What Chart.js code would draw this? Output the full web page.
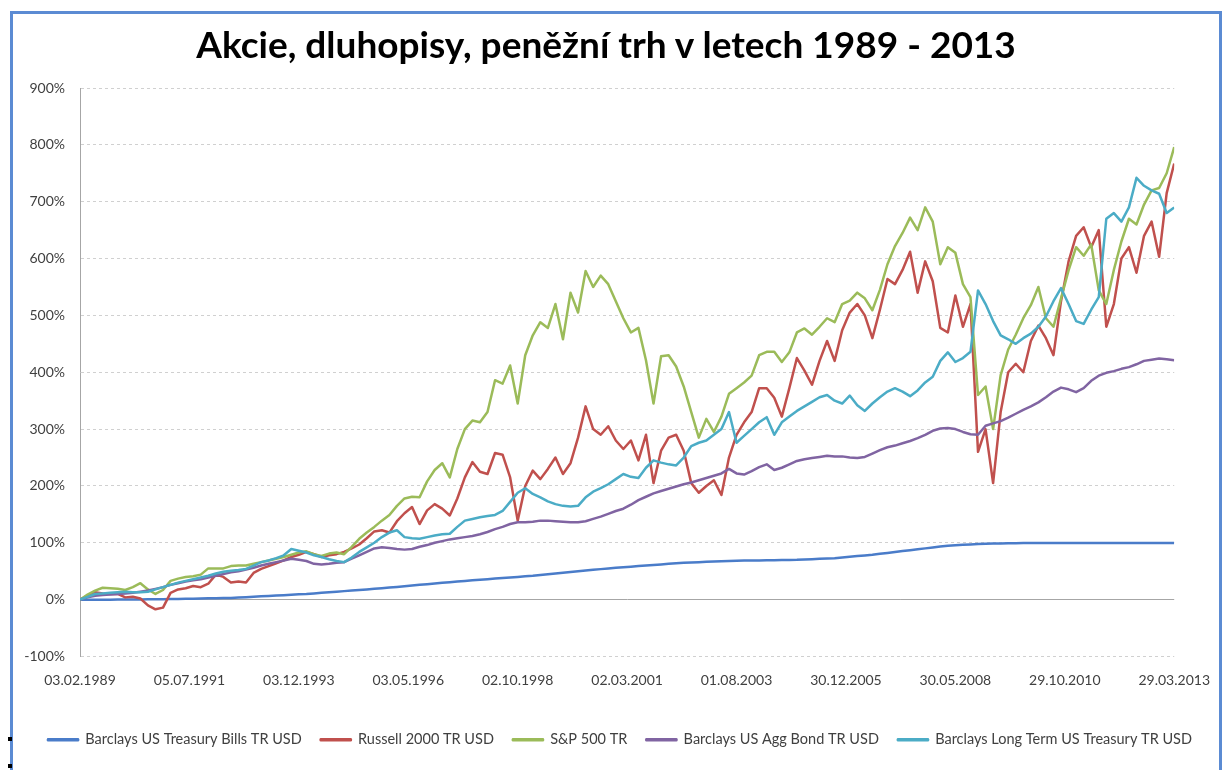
<!DOCTYPE html>
<html>
<head>
<meta charset="utf-8">
<script src="https://cdn.jsdelivr.net/npm/chart.js@4.4.0/dist/chart.umd.min.js"></script>
<style>
  html, body { margin: 0; padding: 0; background: #fff; }
  #wrap { position: relative; width: 1226px; height: 770px; overflow: hidden; background: #fff; }
  #frame { position: absolute; left: 10px; top: 11px; width: 1212px; height: 820px; border: 3px solid #5B8BD3; box-sizing: border-box; }
  #title { position: absolute; left: 0; top: 21px; width: 1212px; text-align: center; font: bold 37px Lato, sans-serif; color: #000; }
  .handle { position: absolute; left: 8px; width: 4px; height: 4px; background: #000; }
  canvas { position: absolute; left: 0; top: 0; }
</style>
</head>
<body>
<div id="wrap">
  <div id="frame"></div>
  <div class="handle" style="top:737px"></div>
  <div class="handle" style="top:764px"></div>
  <canvas id="chart" width="1226" height="770"></canvas>
  <div id="title">Akcie, dluhopisy, peněžní trh v letech 1989 - 2013</div>
</div>
<script>
// osa x: mesice od 03.02.1989, krok 2 mesice
const months = Array.from({ length: 146 }, (_, i) => i * 2);
const tickMonths = [0, 29, 58, 87, 116, 145, 174, 203, 232, 261, 290];
const tickLabels = ['03.02.1989', '05.07.1991', '03.12.1993', '03.05.1996', '02.10.1998',
  '02.03.2001', '01.08.2003', '30.12.2005', '30.05.2008', '29.10.2010', '29.03.2013'];

const seriesNames = ['Barclays US Treasury Bills TR USD', 'Russell 2000 TR USD', 'S&P 500 TR',
  'Barclays US Agg Bond TR USD', 'Barclays Long Term US Treasury TR USD'];
const seriesColors = ['#4A7CC9', '#C0504D', '#9BBB59', '#8064A2', '#4BACC6'];

const tbills = [
  0, 0, 0, 0, 0, 0.1, 0.2, 0.3, 0.4, 0.5,
  0.5, 0.8, 1, 1.3, 1.5, 1.8, 2, 2.3, 2.5, 2.8,
  3, 3.7, 4.4, 5.1, 5.8, 6.5, 7.2, 7.9, 8.6, 9.3,
  10, 11, 12, 13, 14, 15, 16, 17, 18, 19,
  20, 21.2, 22.4, 23.6, 24.8, 26, 27.2, 28.4, 29.6, 30.8,
  32, 33, 34, 35, 36, 37, 38, 39, 40, 41,
  42, 43.3, 44.6, 45.9, 47.2, 48.5, 49.8, 51.1, 52.4, 53.7,
  55, 56, 57, 58, 59, 60, 61, 62, 63, 64,
  65, 65.5, 66, 66.5, 67, 67.5, 68, 68.5, 68.8, 69,
  69, 69.2, 69.4, 69.6, 69.8, 70, 70.6, 71.2, 71.8, 72.4,
  73, 74.2, 75.4, 76.6, 77.8, 79, 80.6, 82.2, 83.8, 85.4,
  87, 88.6, 90.2, 91.8, 93.4, 95, 95.7, 96.4, 97.1, 97.8,
  98.5, 98.7, 98.9, 99.1, 99.3, 99.5, 99.5, 99.5, 99.5, 99.5,
  99.5, 99.5, 99.5, 99.5, 99.5, 99.5, 99.5, 99.5, 99.5, 99.5,
  99.5, 99.5, 99.5, 99.5, 99.5, 99.5
];

const russell = [
  0, 7, 13, 11, 10, 10, 4, 5, 2, -10,
  -17, -14, 12, 18, 20, 24, 22, 28, 44, 40,
  30, 32, 30, 47, 54, 59, 64, 69, 75, 79,
  84, 80, 75, 78, 80, 84, 90, 97, 108, 120,
  122, 118, 138, 152, 163, 133, 157, 168, 160, 148,
  178, 215, 242, 225, 221, 258, 255, 215, 139, 200,
  227, 212, 230, 250, 221, 240, 285, 340, 300, 290,
  305, 280, 265, 280, 245, 290, 205, 262, 285, 290,
  262, 205, 188, 200, 210, 184, 250, 290, 312, 330,
  372, 372, 355, 322, 372, 425, 403, 378, 420, 455,
  420, 474, 505, 520, 500, 460, 510, 564, 555, 580,
  612, 540, 595, 560, 478, 470, 535, 480, 520, 260,
  300, 205, 330, 400, 415, 400, 455, 482, 460, 430,
  525, 595, 640, 655, 620, 650, 480, 520, 600, 620,
  575, 640, 665, 603, 715, 767
];

const sp500 = [
  0, 9, 16, 21, 20, 19, 17, 22, 29, 18,
  10, 17, 33, 37, 40, 41, 44, 55, 55, 55,
  59, 60, 60, 63, 66, 69, 72, 75, 79, 83,
  85, 80, 77, 81, 83, 80, 93, 107, 118, 128,
  139, 149, 165, 178, 181, 180, 208, 228, 240, 215,
  265, 300, 315, 312, 330, 386, 380, 412, 345, 430,
  465, 488, 478, 520, 458, 540, 505, 578, 550, 570,
  555, 525, 495, 470, 478, 421, 345, 428, 430, 410,
  375, 330, 285, 318, 295, 322, 362, 372, 382, 394,
  430, 436, 436, 418, 435, 470, 477, 466, 480, 495,
  488, 520, 526, 540, 530, 509, 545, 590, 622, 645,
  672, 650, 690, 665, 590, 620, 610, 555, 532, 360,
  375, 300, 395, 440, 466, 495, 518, 550, 495, 480,
  530, 579, 620, 605, 625, 544, 520, 580, 630, 670,
  660, 695, 720, 724, 750, 796
];

const aggBond = [
  0, 4, 7, 8, 9, 10, 11, 12, 14, 16,
  19, 22, 26, 29, 32, 34, 36, 39, 42, 45,
  48, 50, 53, 56, 60, 63, 66, 69, 72, 70,
  68, 63, 62, 63, 65, 66, 72, 78, 84, 90,
  92, 91, 89, 88, 89, 93, 96, 100, 103, 106,
  108, 110, 112, 115, 119, 124, 128, 133, 136, 136,
  137, 139, 139, 138, 137, 136, 136, 138, 142, 146,
  151, 156, 160, 167, 175, 181, 187, 191, 195, 199,
  203, 206, 210, 214, 218, 222, 230, 222, 220, 226,
  233, 238, 228, 232, 238, 244, 247, 249, 251, 253,
  252, 252, 250, 249, 251, 257, 263, 268, 271, 275,
  279, 284, 290, 297, 301, 302, 300, 295, 291, 290,
  306, 310, 314, 320, 327, 334, 340, 347, 356, 366,
  373, 370, 365, 372, 385, 394, 399, 402, 406, 409,
  414, 420, 422, 424, 423, 421
];

const longTreasury = [
  0, 5, 10, 11, 12, 13, 14, 13, 13, 14,
  18, 22, 26, 30, 33, 36, 39, 42, 46, 49,
  51, 52, 54, 60, 66, 69, 73, 78, 89, 86,
  83, 78, 75, 71, 68, 66, 74, 84, 92, 100,
  110, 118, 122, 110, 108, 107, 110, 113, 115, 116,
  128, 139, 142, 145, 147, 149, 156, 172, 188, 196,
  186, 180, 173, 168, 165, 164, 165, 180, 190, 196,
  203, 212, 221, 216, 214, 232, 245, 241, 238, 236,
  250, 270, 276, 280, 290, 300, 330, 276, 288, 300,
  312, 321, 290, 312, 322, 332, 340, 348, 356, 360,
  350, 345, 359, 342, 332, 345, 356, 366, 372, 366,
  358, 368, 382, 392, 420, 435, 418, 425, 436, 544,
  520, 490, 465, 458, 450, 460, 468, 480, 498, 525,
  548, 520, 490, 485, 510, 532, 670, 680, 665, 690,
  742, 728, 720, 714, 680, 690
];

const seriesValues = [tbills, russell, sp500, aggBond, longTreasury];

const tickFont = { family: 'Lato', size: 14 };

const datasets = seriesValues.map((vals, k) => ({
  label: seriesNames[k],
  data: months.map((m, i) => ({ x: m, y: vals[i] })),
  borderColor: seriesColors[k],
  backgroundColor: seriesColors[k],
  borderWidth: 2.5,
  pointRadius: 0,
  tension: 0,
  borderJoinStyle: 'round',
  order: 5 - k   // posledni rada nahore jako v Excelu
}));

new Chart(document.getElementById('chart'), {
  type: 'line',
  data: { datasets },
  options: {
    responsive: false,
    animation: false,
    layout: { padding: { left: 14, right: 0, top: 88, bottom: 13 } },
    plugins: {
      title: { display: false },
      tooltip: { enabled: false },
      legend: {
        position: 'bottom',
        labels: {
          boxWidth: 30,
          boxHeight: 1,
          padding: 19,
          color: '#404040',
          font: { family: 'Lato', size: 14.5 },
          sort: (a, b) => a.datasetIndex - b.datasetIndex
        }
      }
    },
    scales: {
      x: {
        type: 'linear',
        min: 0,
        max: 290,
        afterBuildTicks: s => { s.ticks = tickMonths.map(v => ({ value: v })); },
        afterFit: s => { s.height = 57; },
        ticks: {
          autoSkip: false,
          maxRotation: 0,
          padding: 16,
          color: '#404040',
          font: tickFont,
          callback: (v, i) => tickLabels[i]
        },
        grid: { display: false, drawTicks: false },
        border: { display: false }
      },
      y: {
        min: -100,
        max: 900,
        afterFit: s => { s.width = 66; },
        ticks: {
          stepSize: 100,
          padding: 15,
          color: '#404040',
          font: tickFont,
          callback: v => v + '%'
        },
        grid: {
          drawTicks: false,
          lineWidth: 1,
          color: ctx => (ctx.tick && ctx.tick.value === 0) ? '#A6A6A6' : '#D0D0D0'
        },
        border: {
          display: true,
          color: '#A6A6A6',
          dash: ctx => (ctx.tick && ctx.tick.value === 0) ? [] : [3, 3]
        }
      },
      yRight: {
        position: 'right',
        afterFit: s => { s.width = 49; },
        ticks: { display: false },
        grid: { display: false },
        border: { display: false }
      }
    }
  }
});
</script>
</body>
</html>
